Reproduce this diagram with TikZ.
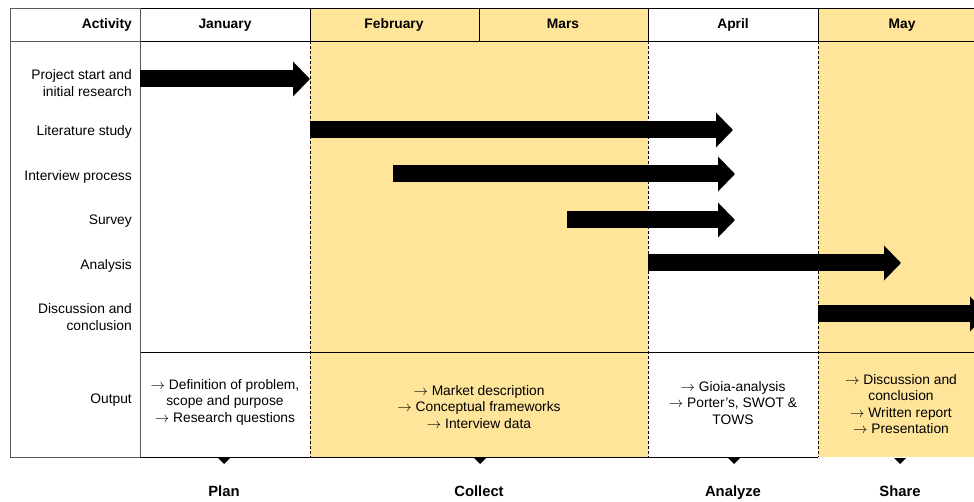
\documentclass[tikz,border=0pt]{standalone}
\usepackage{fontspec}
\setmainfont{Liberation Sans}
\usetikzlibrary{arrows.meta}
\definecolor{phaseyellow}{HTML}{FFE599}
\newcommand{\outarrow}{$\rightarrow$}
\tikzset{heading/.style = {font=\fontsize{13.8}{16.5}\selectfont\bfseries, anchor=base},
         phaselabel/.style = {font=\fontsize{14.8}{16.5}\selectfont\bfseries, anchor=base},
         rowlabel/.style = {anchor=east, align=right},
         outtext/.style = {align=center},
         tableline/.style = {line width=0.9pt},
         framegray/.style = {line width=0.9pt, draw=black!65},
         monthsep/.style = {line width=0.7pt, dash pattern=on 3pt off 2pt},
         ganttbar/.style = {line width=17pt, -{Triangle[length=17pt, width=34pt]}},
         phasemark/.style = {fill=black}}

\begin{document}
\begin{tikzpicture}[x=1pt, y=-1pt, inner sep=0pt, font=\fontsize{13.8}{16.5}\selectfont]
    \useasboundingbox (0,0) rectangle (974,502);
    % shaded months
    \fill[phaseyellow] (310,8) rectangle (648,457);
    \fill[phaseyellow] (818,8) rectangle (974,457);
    % table lines
    \draw[tableline] (140,8) -- (974,8);
    \draw[tableline] (140,41) -- (974,41);
    \draw[tableline] (140,352) -- (974,352);
    \draw[tableline] (140,457) -- (818,457);
    \draw[tableline] (310,8) -- (310,41);
    \draw[tableline] (479,8) -- (479,41);
    \draw[tableline] (648,8) -- (648,41);
    \draw[tableline] (818,8) -- (818,41);
    \draw[framegray] (140,8) -- (10,8) -- (10,457) -- (140,457);
    \draw[framegray] (10,41) -- (140,41);
    \draw[framegray] (140,8) -- (140,457);
    \draw[monthsep] (310,41) -- (310,457);
    \draw[monthsep] (648,41) -- (648,457);
    \draw[monthsep] (818,41) -- (818,457);

    % header
    \node[heading, anchor=base east] (act) at (132,29) {Activity};
    \node[heading] (jan) at (225,29) {January};
    \node[heading] (feb) at (394,29) {February};
    \node[heading] (mar) at (563,29) {Mars};
    \node[heading] (apr) at (733,29) {April};
    \node[heading] (may) at (902,29) {May};

    % activities
    \node[rowlabel] (start) at (132,83) {Project start and\\initial research};
    \node[rowlabel, anchor=base east] (lit) at (132,136) {Literature study};
    \node[rowlabel, anchor=base east] (interview) at (132,181) {Interview process};
    \node[rowlabel, anchor=base east] (survey) at (132,225) {Survey};
    \node[rowlabel, anchor=base east] (analysis) at (132,270) {Analysis};
    \node[rowlabel] (discussion) at (132,317) {Discussion and\\conclusion};
    \node[rowlabel, anchor=base east] (output) at (132,403) {Output};

    % bars
    \coordinate (start-s) at (140,79);      \coordinate (start-e) at (310,79);
    \coordinate (lit-s) at (310,130);       \coordinate (lit-e) at (733,130);
    \coordinate (interview-s) at (393,174); \coordinate (interview-e) at (735,174);
    \coordinate (survey-s) at (567,220);    \coordinate (survey-e) at (735,220);
    \coordinate (analysis-s) at (648,263);  \coordinate (analysis-e) at (901,263);
    \coordinate (discussion-s) at (818,314);\coordinate (discussion-e) at (987,314);
    \draw[ganttbar] (start-s) -- (start-e);
    \draw[ganttbar] (lit-s) -- (lit-e);
    \draw[ganttbar] (interview-s) -- (interview-e);
    \draw[ganttbar] (survey-s) -- (survey-e);
    \draw[ganttbar] (analysis-s) -- (analysis-e);
    \draw[ganttbar] (discussion-s) -- (discussion-e);

    % outputs
    \node[outtext] (out-plan) at (225,402) {\outarrow{} Definition of problem,\\scope and purpose\\\outarrow{} Research questions};
    \node[outtext] (out-collect) at (479,407) {\outarrow{} Market description\\\outarrow{} Conceptual frameworks\\\outarrow{} Interview data};
    \node[outtext] (out-analyze) at (733,403) {\outarrow{} Gioia-analysis\\\outarrow{} Porter’s, SWOT \&\\TOWS};
    \node[outtext] (out-share) at (901,404) {\outarrow{} Discussion and\\conclusion\\\outarrow{} Written report\\\outarrow{} Presentation};

    % phases
    \fill[phasemark] (218,458) -- (230,458) -- (224,464) -- cycle;
    \fill[phasemark] (474,458) -- (486,458) -- (480,464) -- cycle;
    \fill[phasemark] (728,458) -- (740,458) -- (734,464) -- cycle;
    \fill[phasemark] (894,458) -- (906,458) -- (900,464) -- cycle;
    \node[phaselabel] (plan) at (224,496) {Plan};
    \node[phaselabel] (collect) at (479,496) {Collect};
    \node[phaselabel] (analyze) at (733,496) {Analyze};
    \node[phaselabel] (share) at (900,496) {Share};
\end{tikzpicture}
\end{document}
